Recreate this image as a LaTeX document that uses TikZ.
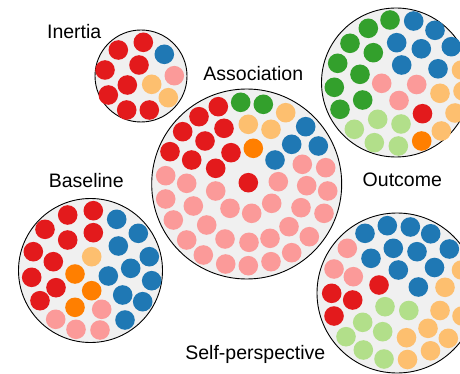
\documentclass[tikz,border=0pt]{standalone}
\usepackage{fontspec}
\setmainfont{Liberation Sans}
\definecolor{cred}{HTML}{E31A1C}
\definecolor{cblue}{HTML}{1F78B4}
\definecolor{cgreen}{HTML}{33A02C}
\definecolor{clgreen}{HTML}{B2DF8A}
\definecolor{cpink}{HTML}{FB9A99}
\definecolor{clorange}{HTML}{FDBF6F}
\definecolor{corange}{HTML}{FF7F00}
\definecolor{cfill}{HTML}{F0F0F0}
\newcommand{\mydots}[2]{\foreach \x/\y in {#2} {\fill[#1] (\x,\y) circle[radius=9.8pt];}}
\tikzset{
  group/.style={circle, draw=black, line width=0.9pt, fill=cfill, inner sep=0pt},
  lbl/.style={anchor=base, inner sep=0pt, font=\fontsize{19.5}{22}\selectfont}
}
\begin{document}
\begin{tikzpicture}[x=1pt,y=-1pt]
\useasboundingbox (0,0) rectangle (460,374);
\clip (0,0) rectangle (460,374);
% group circles
\node[group, minimum size=92pt] (inertia) at (141,76) {};
\node[group, minimum size=190pt] (assoc) at (246.7,184) {};
\node[group, minimum size=149pt] (outcome) at (396,82.5) {};
\node[group, minimum size=144pt] (base) at (90.5,270.5) {};
\node[group, minimum size=160pt] (selfp) at (397,293) {};
% labels
\node[lbl] (linertia) at (74.2,39) {Inertia};
\node[lbl] (lassoc) at (253.3,80.7) {Association};
\node[lbl] (loutcome) at (402.3,186.7) {Outcome};
\node[lbl] (lbase) at (86.3,187.5) {Baseline};
\node[lbl] (lselfp) at (255.3,359.7) {Self-perspective};
% Inertia dots
\mydots{cred}{118.3/50,143.3/42.3,105/70,139/65,127.3/85,108.3/95,126.7/110,149.3/110}
\mydots{cblue}{164.3/54.3}
\mydots{cpink}{174.3/75.7}
\mydots{clorange}{151.7/84.3,168.3/97.7}
% Association dots
\mydots{cred}{218.3/106.7,199/116.7,182.7/131.7,224/128.3,205/141,170/151.7,231/152.7,191.7/160,215.7/168.3,248.3/182.7}
\mydots{cgreen}{240.7/102.3,263.3/104.3}
\mydots{clorange}{285.7/112.7,248.3/124.3,271/129.3}
\mydots{cblue}{305.7/126.7,291.7/144.3,318.3/146,275/160}
\mydots{corange}{253.3/148.3}
\mydots{cpink}{302.3/164.3,325.7/167.7,165.7/175.7,278.3/181.7,186.7/183.3,215.7/191,306.7/185.7,327.7/191,165.7/199,193.3/206,271.7/203.3,230/208.3,251.7/213.3,301/207.7,324/213.3,173.3/220,206.7/225,289/226.7,309.3/236.7,225/239,186.7/240,249/242.3,270/238.3,203.3/255,225.7/264,248.3/265.7,271/261.7,291.7/252.7}
% Outcome dots
\mydots{cgreen}{390/20,368.3/28.3,350/43.3,373.3/52.7,337.7/63.3,360/74.3,334.3/87.3,362.7/100,340/109.3}
\mydots{cblue}{413.7/21,435/30.3,396.7/42.7,421.3/48.8,451.3/46.7,401.7/65,438/68.8}
\mydots{clorange}{461.5/70,440/93.3,463/91,455/113,441.3/131}
\mydots{cpink}{381.7/83.3,416.7/84.5,399/100.5}
\mydots{cred}{422.5/113.7}
\mydots{corange}{421.7/141}
\mydots{clgreen}{377.7/119.3,401/124,354.3/129.3,374.3/142.7,398.3/146}
% Baseline dots
\mydots{cred}{93.3/210.7,67.7/215,45/229.3,93.3/232.7,67.7/240,33.3/251.7,53.3/261.7,31.7/277.3,56/287.7,40/300.7}
\mydots{cblue}{116.7/219.3,138.3/233.3,118.3/246,149.3/256.7,108.3/276,130.7/268.3,151.7/280.7,122.7/295,142.7/301.7,125/320}
\mydots{clorange}{91.7/256.7}
\mydots{corange}{75/274,91.7/290.7,75/307.3}
\mydots{cpink}{101.7/309.3,55.7/319.3,76/329.3,100/330}
% Self-perspective dots
\mydots{cblue}{387.3/225.7,410.3/227,365/233.3,430.7/233.8,393.3/248.3,417/251.7,449.3/249,371/258.3,398.3/270,434.5/267.5,418.3/287}
\mydots{cpink}{347.3/248.3,334/269,353.3/276.7}
\mydots{cred}{379/285,331.7/293.3,352.7/300,334/316}
\mydots{clgreen}{385/306.7,408.8/310.5,362.7/322.3,382.7/331.7,346/336.7,363.3/350,384/359}
\mydots{clorange}{461.5/270,445/287.3,440/310.5,462/316,428/328.3,406.5/337.7,448.3/338.3,430.5/350.8,407.5/359.5}
\end{tikzpicture}
\end{document}
